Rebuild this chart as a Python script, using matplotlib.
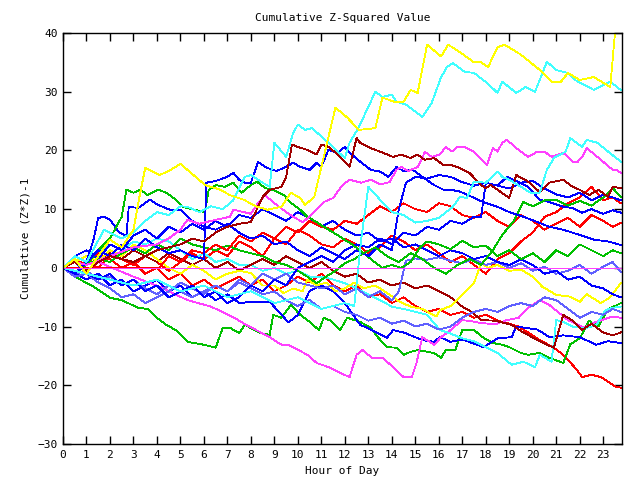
import matplotlib
matplotlib.use('Agg')
import matplotlib.pyplot as plt

plt.rcParams['font.family'] = ['DejaVu Sans Mono']

title = "Cumulative Z-Squared Value"
xlabel = "Hour of Day"
ylabel = "Cumulative (Z*Z)-1"
xticks = list(range(24))
yticks = [-30, -20, -10, 0, 10, 20, 30, 40]

RED = '#ff0000'; GREEN = '#00c000'; BLUE = '#0000ff'; MAGENTA = '#ff40ff'
CYAN = '#40ffff'; DARKRED = '#a00000'; YELLOW = '#ffff00'; LBLUE = '#6060ff'

yellow_top_h = [0, 0.5, 1, 1.5, 2, 2.5, 3, 3.25, 3.5, 4.1, 4.5, 5.0, 5.5, 6.05, 6.7, 7.1, 7.7, 8.2, 8.7, 9.3, 9.7, 10.1, 10.3, 10.7, 10.9, 11.6, 12.1, 12.6, 13.3, 13.6, 14.1, 14.5, 14.8, 15.1, 15.5, 16.1, 16.4, 16.8, 17.5, 17.8, 18.1, 18.5, 18.8, 19.5, 20.3, 20.8, 21.2, 21.5, 22.0, 22.6, 23.3, 23.5, 23.75]
yellow_top_v = [0, 1.5, -1, 2, 4.8, 3.5, 6.5, 12, 17, 15.8, 16.5, 17.7, 16, 14.1, 13.3, 12.4, 11.6, 10.5, 9.9, 10.4, 12.8, 11.9, 10.7, 12.1, 15.5, 27.3, 25.6, 23.5, 23.8, 29, 28.3, 28.3, 30.3, 29.8, 38, 36, 38, 37, 35, 35, 34.2, 37.6, 38, 36.3, 33.7, 31.7, 31.7, 33.2, 32, 32.5, 30.8, 40, 40]

cyan_top_h = [0, 0.5, 1, 1.75, 2.5, 3, 3.5, 4, 4.5, 5, 5.3, 5.8, 6.3, 6.8, 7.25, 7.5, 7.75, 8.0, 8.5, 8.8, 9.0, 9.5, 9.8, 10.0, 10.3, 10.6, 11.3, 11.7, 12.0, 12.2, 12.6, 13.3, 13.6, 14.0, 14.2, 14.6, 15.3, 15.7, 16.1, 16.35, 16.6, 17.1, 17.5, 18.05, 18.5, 18.7, 19.3, 19.7, 20.1, 20.6, 21.0, 21.5, 21.8, 22.6, 23.3, 23.75]
cyan_top_v = [0, 2, 1, 6.5, 5, 6, 8, 9.5, 9, 10.5, 10.4, 9.5, 10.5, 10, 11.5, 13.5, 15.5, 15.8, 14.5, 13.8, 21.3, 18.9, 23, 24.4, 23.5, 23.8, 21.3, 19.8, 18.7, 21.3, 24, 30, 29.1, 29.5, 28.3, 27.8, 25.7, 28.1, 32.5, 34.2, 34.9, 33.4, 33.2, 31.5, 29.8, 31.7, 29.8, 30.8, 30, 35.1, 33.7, 33.2, 32, 30.3, 31.7, 30.3]

cyan_mid_h = [0, 1, 2, 3, 4, 5, 6, 7, 8, 9, 10, 11, 12, 12.4, 12.7, 13.0, 13.5, 14.0, 14.5, 15.0, 15.5, 16.0, 16.6, 16.9, 17.2, 17.5, 18.0, 18.5, 18.7, 19.0, 19.5, 19.9, 20.3, 20.6, 20.9, 21.4, 21.6, 22.1, 22.3, 22.75, 23.3, 23.75]
cyan_mid_v = [0, -1, -2, -3, -2, -4, -3, -5, -4, -6, -5, -7, -6, -6.5, 5, 13.8, 11.6, 9.5, 9, 7.7, 8, 8.5, 10.4, 12.1, 11.9, 14.7, 14.5, 16.4, 15.5, 15, 13.8, 12.8, 12.8, 16.7, 18.7, 19.8, 22.1, 20.6, 21.8, 21.3, 19.5, 18.1]

magenta_up_h = [0, 0.5, 1, 2, 3, 4, 4.5, 5, 5.3, 5.8, 6.3, 7.1, 7.25, 7.7, 8.0, 8.3, 8.6, 9.0, 9.5, 9.8, 10.2, 10.5, 10.8, 11.1, 11.5, 11.9, 12.2, 12.7, 13.1, 13.5, 13.9, 14.2, 14.4, 14.7, 15.1, 15.3, 15.4, 15.7, 16.05, 16.3, 16.55, 16.8, 17.1, 17.5, 18.05, 18.3, 18.5, 18.7, 18.9, 19.3, 19.8, 20.2, 20.5, 20.8, 21.0, 21.3, 21.7, 21.9, 22.1, 22.3, 22.9, 23.4, 23.55, 23.75]
magenta_up_v = [0, 1, 0.5, 2, 3.5, 4, 5, 6.5, 8.2, 7.5, 8, 8.7, 9.9, 9.5, 9.2, 11, 12.4, 11, 9.5, 8.7, 7.8, 8.7, 9.9, 11.2, 11.9, 14.1, 15, 14.5, 15, 14.2, 14.6, 16.7, 17.2, 16.5, 17.2, 18.7, 19.8, 18.9, 19.3, 20.6, 19.8, 20.6, 20.6, 19.8, 17.5, 20.4, 19.8, 21.3, 21.8, 20.4, 18.9, 19.8, 19.8, 18.9, 19.2, 19.6, 18.1, 18.0, 18.9, 20.4, 18.4, 16.7, 16.7, 16.2]

darkred_top_h = [0, 0.5, 1, 1.5, 2, 3, 4, 5, 5.5, 6, 6.5, 7, 7.5, 8.0, 8.5, 8.8, 9.3, 9.5, 9.75, 10.0, 10.4, 10.8, 11.0, 11.3, 11.7, 12.0, 12.2, 12.5, 12.65, 13.1, 13.5, 14.05, 14.4, 14.8, 15.1, 15.4, 15.8, 16.2, 16.55, 16.9, 17.3, 17.8, 18.0, 18.2, 18.5, 19.0, 19.3, 19.8, 20.3, 20.7, 21.3, 21.7, 22.0, 22.4, 22.8, 23.2, 23.4, 23.75]
darkred_top_v = [0, 1, -0.5, 1, 2, 1, 3, 4, 5, 4.5, 6, 7, 7.5, 7.8, 12.1, 13.3, 13.8, 15.5, 21, 20.6, 20.1, 19.3, 21, 20.6, 19.3, 18.1, 17.2, 22.1, 21.3, 20.4, 19.8, 18.9, 19.3, 18.7, 19.3, 18.4, 18.7, 17.5, 17.5, 17, 16.2, 14.1, 13.6, 14.1, 13.3, 11.9, 15.8, 14.7, 12.9, 14.5, 15, 13.8, 13.3, 12.4, 13.3, 12.1, 13.8, 13.6]

green_hi_h = [0, 0.5, 1, 1.5, 2, 2.5, 2.7, 3.0, 3.3, 3.6, 4.05, 4.4, 4.8, 5.1, 5.5, 6.05, 6.2, 6.5, 6.9, 7.25, 7.6, 8.0, 8.25, 8.6, 9.0, 9.4, 9.7, 10.1, 10.4, 10.8, 11.3, 11.8, 12.3, 12.8, 13.3, 13.8, 14.3, 14.8, 15.3, 15.8, 16.3, 16.8, 17.3, 17.8, 18.3, 18.7, 19.2, 19.6, 20.0, 20.5, 21.0, 21.5, 22.0, 22.5, 23.0, 23.4, 23.75]
green_hi_v = [0, 1, 0.5, 3, 5, 8.7, 13.3, 12.8, 13.3, 12.4, 13.3, 12.8, 11.6, 10.4, 10, 9.5, 13.3, 14.1, 13.8, 14.5, 12.8, 14.1, 14.7, 13.6, 13.2, 12.4, 11.1, 9.9, 8.7, 7.8, 6.5, 5.3, 4, 2.5, 3.5, 2, 1, 2.5, 1.5, 0, -1, 0.5, 1.5, 0.5, 3, 5.6, 8, 11.2, 10.5, 11.5, 11.6, 10.6, 11.4, 10.6, 12, 13.6, 12.1]

blue_a_h = [0, 0.5, 1, 1.3, 1.5, 1.75, 2.0, 2.4, 2.7, 2.8, 3.2, 3.7, 4.0, 4.55, 5.0, 5.5, 6.0, 6.5, 7.0, 7.5, 8.0, 8.5, 9.0, 9.5, 10.0, 10.5, 11.0, 11.5, 12.0, 12.5, 13.0, 13.5, 14.0, 14.3, 14.6, 15.0, 15.5, 16.0, 16.5, 17.0, 17.5, 18.0, 18.5, 19.0, 19.5, 20.0, 20.5, 21.0, 21.5, 22.0, 22.5, 23.0, 23.4, 23.75]
blue_a_v = [0, -1, 1, 4.8, 8.5, 8.7, 8.2, 6, 5.5, 10.4, 10.2, 11.6, 10.8, 9.9, 9.9, 8, 7, 6.5, 7.5, 6, 5, 5.5, 4, 4.5, 3, 2, 3.5, 2.5, 1.5, 3, 2, 4, 3, 10, 14.5, 15.5, 15.2, 15.8, 15.5, 14.6, 14, 14.5, 14, 13.5, 14.5, 14.8, 13.5, 12.5, 12, 12.8, 11.5, 12.5, 12, 11.5]

blue_b_h = [0, 0.5, 1, 1.5, 2, 2.5, 3, 3.5, 4, 4.5, 5, 5.5, 6, 6.5, 7, 7.5, 8, 8.5, 9, 9.5, 10, 10.5, 11, 11.5, 12, 12.5, 13, 13.5, 14, 14.5, 15, 15.5, 16, 16.5, 17, 17.5, 17.8, 18.0, 18.5, 18.9, 19.3, 19.8, 20.3, 20.7, 21.3, 21.7, 22.1, 22.5, 23.0, 23.4, 23.75]
blue_b_v = [0, 1, -1, -2, -1, -3, -2, -4, -3, -5, -4, -3, -5, -4, -6, -5, -3, -4, -2, -3, 0, 1, 2, 1, 3, 4, 3.5, 5, 4, 6, 5.5, 7, 6.5, 8, 7.5, 8.7, 8.7, 14.5, 14, 15.5, 14.8, 13.8, 11.6, 11.2, 10.4, 10.2, 9.4, 10, 9.2, 9.8, 9.4]

red_a_h = [0, 0.3, 4.1, 4.5, 5, 5.5, 6, 6.5, 7, 7.5, 8, 8.5, 9, 9.5, 10, 10.5, 11, 11.5, 12, 12.5, 13, 13.5, 14, 14.5, 15, 15.5, 16, 16.5, 17, 17.5, 18, 18.5, 19, 19.5, 20, 20.5, 21, 21.5, 22, 22.5, 23, 23.4, 23.75]
red_a_v = [0, 0, 0, 2, 1, 3, 2.5, 4, 3, 5.5, 4.5, 6, 5, 7, 6, 8, 7, 6.5, 8, 7.5, 9, 10.5, 9.5, 11, 10, 9.5, 11, 10.5, 9, 8.5, 9.5, 8, 7, 9, 8, 6.5, 7.5, 8.5, 7, 9, 8, 7, 7.7]

blue_e1_h = [0, 0.5, 1, 1.5, 2, 2.5, 3, 3.5, 4, 4.5, 5, 5.5, 6.0, 6.1, 6.5, 7.0, 7.25, 7.5, 7.75, 8.0, 8.3, 8.7, 9.1, 9.5, 9.8, 10.1, 10.5, 10.8, 11.0, 11.3, 11.7, 12.0, 12.2, 12.65, 13.1, 13.5, 13.85, 14.2, 14.5, 14.9, 15.3, 15.8, 16.2, 16.5, 16.9, 17.4, 17.9, 18.5, 19.0, 19.6, 20.2, 20.7, 21.3, 22.0, 22.6, 23.2, 23.75]
blue_e1_v = [0, 2, 1, 3, 2, 4, 3, 5, 3.5, 2.5, 3, 2, 1.5, 14.5, 14.8, 15.5, 16.2, 15, 14.5, 14.5, 18, 17, 16.5, 17.2, 17.9, 17.2, 16.7, 17.9, 17.2, 20.1, 19.6, 20.6, 19.6, 18.1, 16.7, 16.4, 15.5, 17.2, 16.5, 16.7, 15.5, 14.1, 13.3, 13.3, 13, 12.1, 11.2, 10.4, 9.5, 8.7, 7.8, 7, 6.5, 5.6, 4.8, 4.5, 3.9]

green_mid_h = [0, 0.5, 1, 1.5, 2, 2.5, 3, 3.5, 4, 4.5, 5, 5.5, 6, 6.5, 7, 7.5, 8, 8.5, 9, 9.5, 10, 10.4, 10.8, 11.2, 11.6, 12.0, 12.4, 12.8, 13.2, 13.6, 14.0, 14.4, 14.8, 15.2, 15.5, 16, 16.5, 17, 17.5, 18, 18.5, 19, 19.5, 20, 20.5, 21, 21.5, 22, 22.5, 23, 23.4, 23.75]
green_mid_v = [0, -1, 0.5, 1.5, 1, 2.5, 3.5, 2.5, 4, 3, 5, 4, 3.5, 3, 3.8, 3, 2.5, 2, 1, 0.5, -0.5, -1.5, -2.6, -1.5, -0.5, 0.8, 1.5, 2.5, 1.2, 0, 0.5, 0, 1.0, 3.5, 4.5, 4.0, 3.2, 4.6, 3.5, 3.8, 2.0, 3.0, 1.5, 2.5, 1.0, 3.0, 2.0, 4.0, 3.0, 2.0, 3.0, 2.5]

lblue_a_h = [0, 0.5, 1, 1.5, 2, 2.5, 3, 3.5, 4, 4.5, 5, 5.5, 6, 6.5, 7, 7.5, 8, 8.5, 9, 9.5, 10, 10.5, 11, 11.5, 12, 12.5, 13, 13.5, 14, 14.3, 14.6, 15, 15.5, 16, 16.5, 17, 17.5, 18, 18.5, 19, 19.5, 20, 20.5, 21, 21.5, 22, 22.5, 23, 23.4, 23.75]
lblue_a_v = [0, -1, -0.5, -2, -1.5, -3, -2, -3.5, -4.5, -3, -4, -5, -4, -3, -4, -2, -3, -1, -2, -1, -2.5, -3, -3.5, -3, -4.5, -3.5, -5, -4, -5.5, -4, 1.2, 1.6, 1.4, 1.8, 1.2, 0.8, 1.5, 0.5, 1, 0, 0.8, -0.5, 0.2, -1, -0.5, 0.5, -1, 0.2, 1, -0.7]

yellow_b_h = [0, 0.5, 1, 1.5, 2, 2.5, 3, 3.5, 4, 4.5, 5, 5.5, 6, 6.5, 7, 7.5, 8.0, 8.5, 9.0, 9.4, 9.8, 10.2, 10.4, 10.8, 11.2, 11.6, 12.0, 12.4, 12.8, 13.3, 13.8, 14.35, 14.8, 15.3, 15.9, 16.05, 16.5, 16.9, 17.5, 17.8, 18.1, 18.5, 19.0, 19.5, 20.0, 20.4, 21.0, 21.6, 22.0, 22.3, 22.9, 23.3, 23.75]
yellow_b_v = [0, 1, 2, 1, 3, 2, 4, 3, 1.5, 0, -1, 0.5, -0.5, -2, -1, -0.5, -0.9, -3, -3, -4.3, -3.5, -4, -2, -3, -2.5, -4, -3.5, -2.5, -3.5, -3, -4.3, -5.8, -6.6, -7, -8.3, -7.2, -6.5, -5, -2.6, 0.8, 0, 0.5, -0.5, -0.3, -1.5, -3.2, -4.6, -4.9, -5.8, -4.5, -6, -5, -2.6]

blue_d_h = [0, 0.5, 1, 1.5, 2, 2.5, 3, 3.5, 4, 4.5, 5, 5.5, 6, 6.5, 7, 7.5, 8, 8.5, 9, 9.5, 10, 10.5, 11, 11.5, 12, 12.5, 13, 13.5, 14, 14.5, 15, 15.5, 16, 16.5, 17, 17.5, 18, 18.5, 19, 19.5, 20, 20.5, 21, 21.5, 22, 22.5, 23, 23.4, 23.75]
blue_d_v = [0, 2, 3, 1.5, 4, 3, 5.5, 6.5, 5, 7, 6, 7.5, 6.5, 8, 7, 9, 8.5, 10, 9, 8, 9.5, 8.5, 7, 8, 6.5, 5.5, 6, 4.5, 5, 3.5, 4, 3, 2, 3, 2.5, 1.5, 2, 1, 0.5, 1.5, 0.5, -1, -0.5, -2, -1.5, -3, -3.5, -4.5, -5]

green_low_h = [0, 0.5, 1.3, 2, 2.5, 3.2, 3.6, 4, 4.4, 4.8, 5.3, 5.6, 6, 6.5, 6.8, 7.1, 7.5, 7.75, 8.1, 8.4, 8.8, 8.95, 9.3, 9.7, 10.1, 10.5, 10.9, 11.1, 11.4, 11.8, 12.1, 12.65, 13.1, 13.4, 13.8, 14.2, 14.5, 14.8, 15.1, 15.8, 16.1, 16.3, 16.7, 17.0, 17.5, 17.9, 18.3, 18.7, 19.0, 19.5, 19.8, 20.3, 20.7, 21.3, 21.6, 22.0, 22.4, 22.8, 23.2, 23.5, 23.75]
green_low_v = [0, -1.5, -3.2, -5.1, -5.5, -6.8, -7, -8.5, -9.7, -10.6, -12.6, -12.8, -13.1, -13.6, -10.2, -10.2, -11.1, -9.7, -10.5, -11.1, -11.4, -8, -8.5, -6.3, -8, -9.2, -10.6, -8.5, -9, -10.6, -8.5, -9.2, -10.2, -11.8, -13.5, -13.6, -14.8, -14.3, -14, -14.5, -15.3, -14, -14, -10.6, -10.6, -11.9, -12.8, -13.1, -13.5, -14.5, -14.8, -14.5, -15.3, -16.2, -13, -12, -9, -10, -7, -6.5, -6]

cyan_low_h = [0, 0.5, 1, 1.5, 2, 2.5, 3, 3.5, 4, 4.5, 5, 5.5, 6, 6.5, 7, 7.5, 8, 8.5, 9, 9.5, 10, 10.5, 11, 11.5, 12, 12.5, 13, 13.5, 14, 14.5, 15, 15.5, 16.05, 16.5, 17, 17.5, 18, 18.5, 19.1, 19.6, 20.1, 20.3, 20.8, 21.0, 21.3, 21.7, 22.2, 22.7, 23.1, 23.4, 23.75]
cyan_low_v = [0, 2, 1, 3, 4, 3, 4.5, 4, 5, 4.5, 3, 1.5, 2.5, 1, 1.5, 0.5, 0.5, -0.5, 0, -1, -0.5, -1.5, -1.5, -2, -2.6, -3.5, -4.5, -5.5, -6.6, -7, -7.5, -8, -10.6, -11.2, -12, -12.5, -13.5, -14.5, -16.5, -16, -16.9, -14.8, -16, -8.9, -9.2, -10, -10.3, -9.8, -7.2, -6.8, -6.6]

lblue_b_h = [0, 0.5, 1, 1.5, 2, 2.5, 3, 3.5, 4, 4.5, 5, 5.5, 6, 6.5, 7, 7.5, 8, 8.5, 9, 9.5, 10, 10.5, 11, 11.5, 12, 12.5, 13, 13.5, 14, 14.5, 15, 15.5, 16, 16.5, 17, 17.5, 18, 18.5, 19, 19.5, 20, 20.5, 21, 21.5, 22, 22.5, 23, 23.4, 23.75]
lblue_b_v = [0, -1.5, -1, -2.5, -3.5, -5, -4.5, -6, -5, -4, -2.5, -3.5, -4.5, -3, -4, -2.5, -3.5, -4.5, -4, -5.5, -6.5, -5.5, -7, -6.5, -7.5, -8, -9, -8.5, -9.5, -9, -10, -9.5, -10.5, -10, -8.5, -7.5, -7, -7.5, -6.5, -6, -6.5, -5, -5.5, -7, -8.5, -7.5, -8, -7, -7.5]

magenta_low_h = [0, 0.5, 1, 1.5, 2.1, 3, 4.1, 5.3, 6.3, 7.2, 7.8, 8.8, 9.3, 9.6, 10.4, 10.8, 11.3, 11.8, 12.2, 12.5, 12.75, 13.15, 13.6, 14.05, 14.5, 14.85, 15.05, 15.3, 15.8, 16.1, 16.5, 17.0, 17.4, 17.8, 18.4, 18.9, 19.4, 19.8, 20.3, 20.7, 21.5, 22.2, 22.7, 23.4, 23.75]
magenta_low_v = [0, 1, -0.5, 1, 0, -1.5, -3.2, -5.5, -6.6, -8.3, -9.7, -11.8, -13.1, -13.1, -14.8, -16.2, -16.9, -17.9, -18.6, -14.8, -14, -15.3, -15.3, -16.9, -18.6, -18.6, -16.2, -11.8, -13.1, -11.8, -10.6, -8.9, -9.1, -9.4, -9.6, -8.9, -8.5, -6.8, -5.5, -6.3, -8.9, -10.2, -9.2, -8.3, -8.5]

darkred_b_h = [0, 0.5, 1, 1.5, 2, 2.5, 3, 3.5, 4, 4.5, 5, 5.5, 6, 6.5, 7, 7.5, 8, 8.5, 9, 9.5, 10, 10.5, 11, 11.5, 12, 12.5, 13, 13.5, 14, 14.5, 15, 15.5, 16.05, 16.5, 17.0, 17.4, 17.8, 18.4, 19.1, 19.6, 20.2, 20.6, 20.9, 21.3, 21.7, 22.1, 22.5, 23.0, 23.4, 23.75]
darkred_b_v = [0, 1, 2, 1, 2.5, 1.5, 3, 2, 1, 2.5, 1.5, 0.5, 1.5, 0, 1, -0.5, 0.5, 1.5, 0.5, 2, 1, 0, 1, -0.5, -1.5, -1, -2.5, -2, -3, -2.5, -3.5, -3, -4.1, -5, -6.6, -7.5, -8.9, -9, -9.7, -11, -12.3, -13.1, -13.6, -8, -9, -10.6, -9.5, -11, -11.5, -11]

blue_e_h = [0, 0.5, 1, 1.5, 2, 2.5, 3, 3.5, 4, 4.5, 5, 5.5, 6, 6.5, 7, 7.5, 8.0, 8.8, 9.2, 9.6, 10.0, 10.5, 11.0, 11.5, 12.0, 12.65, 13.1, 13.8, 14.05, 14.5, 15.3, 15.8, 16.05, 16.5, 17.0, 17.9, 18.5, 19.1, 19.3, 20.2, 20.7, 21.3, 22.0, 22.7, 23.2, 23.75]
blue_e_v = [0, -1, -2, -1, -3, -2, -4, -3, -2, -4, -3, -5, -4, -5.5, -4.5, -6, -5.8, -5.8, -7.5, -9.3, -8, -3.9, -3, -4, -6, -9.7, -10.5, -11.9, -10.6, -11, -12.3, -12.6, -11.8, -12.6, -12.2, -13.5, -12, -11.8, -10, -10.5, -11.8, -11.5, -11.8, -13.1, -12.5, -12.8]

red_bottom_h = [0, 0.5, 1, 1.5, 2, 2.5, 3, 3.5, 4, 4.5, 5, 5.5, 6, 6.5, 7, 7.5, 8, 8.5, 9, 9.5, 10, 10.5, 11, 11.5, 12, 12.5, 13, 13.5, 14, 14.5, 15, 15.5, 16, 16.5, 17, 17.5, 18, 18.5, 18.9, 19.4, 19.8, 20.3, 20.9, 21.2, 21.5, 21.8, 22.1, 22.5, 22.9, 23.2, 23.5, 23.75]
red_bottom_v = [0, 1.5, 0.5, 2.5, 1.5, 0, 1, -1, 0, -2, -1, -3, -2, -3.5, -2.5, -1.5, -3, -2, -4, -3, -1.5, -2.5, -1, -3, -4, -3, -5, -4.5, -6, -5, -6.5, -7.5, -7, -8, -7.5, -8.5, -8, -9, -9.4, -10, -11, -12.3, -13.6, -14.5, -15.7, -17, -18.6, -18.2, -18.6, -19.4, -20.2, -20.4]

red_b_h = [0, 0.5, 1, 1.5, 2, 2.5, 3, 3.5, 4, 4.5, 5, 5.5, 6, 6.5, 7, 7.5, 8, 8.5, 9, 9.5, 10, 10.5, 11, 11.5, 12, 12.5, 13, 13.5, 14, 14.5, 15, 15.5, 16, 16.5, 17, 17.5, 18, 18.5, 19, 19.5, 20, 20.5, 21, 21.5, 22, 22.5, 23, 23.4, 23.75]
red_b_v = [0, -1, 1, 0, 2, 1.5, 0.5, 2, 1, -0.5, 1, 2.5, 1.5, 3, 2, 4.5, 3.5, 2, 5, 4, 6.5, 5.5, 4, 3.5, 5, 4, 2.5, 3.5, 5.5, 4.5, 3, 4, 2.5, 1, 2, 0.5, -1, 1.5, 2.5, 4.5, 6, 8.7, 9.5, 11, 12, 13.8, 11.5, 12, 11]

series = [
    (red_bottom_h, red_bottom_v, RED),
    (red_b_h, red_b_v, RED),
    (green_low_h, green_low_v, GREEN),
    (blue_e_h, blue_e_v, BLUE),
    (magenta_low_h, magenta_low_v, MAGENTA),
    (cyan_low_h, cyan_low_v, CYAN),
    (darkred_b_h, darkred_b_v, DARKRED),
    (yellow_b_h, yellow_b_v, YELLOW),
    (lblue_b_h, lblue_b_v, LBLUE),
    (lblue_a_h, lblue_a_v, LBLUE),
    (blue_d_h, blue_d_v, BLUE),
    (green_mid_h, green_mid_v, GREEN),
    (red_a_h, red_a_v, RED),
    (blue_b_h, blue_b_v, BLUE),
    (blue_a_h, blue_a_v, BLUE),
    (green_hi_h, green_hi_v, GREEN),
    (blue_e1_h, blue_e1_v, BLUE),
    (magenta_up_h, magenta_up_v, MAGENTA),
    (darkred_top_h, darkred_top_v, DARKRED),
    (cyan_mid_h, cyan_mid_v, CYAN),
    (cyan_top_h, cyan_top_v, CYAN),
    (yellow_top_h, yellow_top_v, YELLOW),
]

fig = plt.figure(figsize=(6.4, 4.8), dpi=100)
ax = fig.add_axes([63/640, 36/480, 559/640, 411/480])
for h, v, c in series:
    ax.plot(h, v, color=c, lw=0.6, antialiased=False)
ax.axhline(0, color=MAGENTA, lw=0.6, antialiased=False)

ax.set_xlim(0, 23.8)
ax.set_ylim(-30, 40)
ax.set_xticks(xticks)
ax.set_yticks(yticks)
ax.tick_params(direction='in', top=True, right=True, length=6, width=1,
               labelsize=8, pad=4, colors='black')
for s in ax.spines.values():
    s.set_linewidth(1)
ax.set_title(title, fontsize=8, pad=9)
ax.set_xlabel(xlabel, fontsize=8, labelpad=5)
ax.set_ylabel(ylabel, fontsize=8, labelpad=5)
fig.savefig('out.png', dpi=100)
